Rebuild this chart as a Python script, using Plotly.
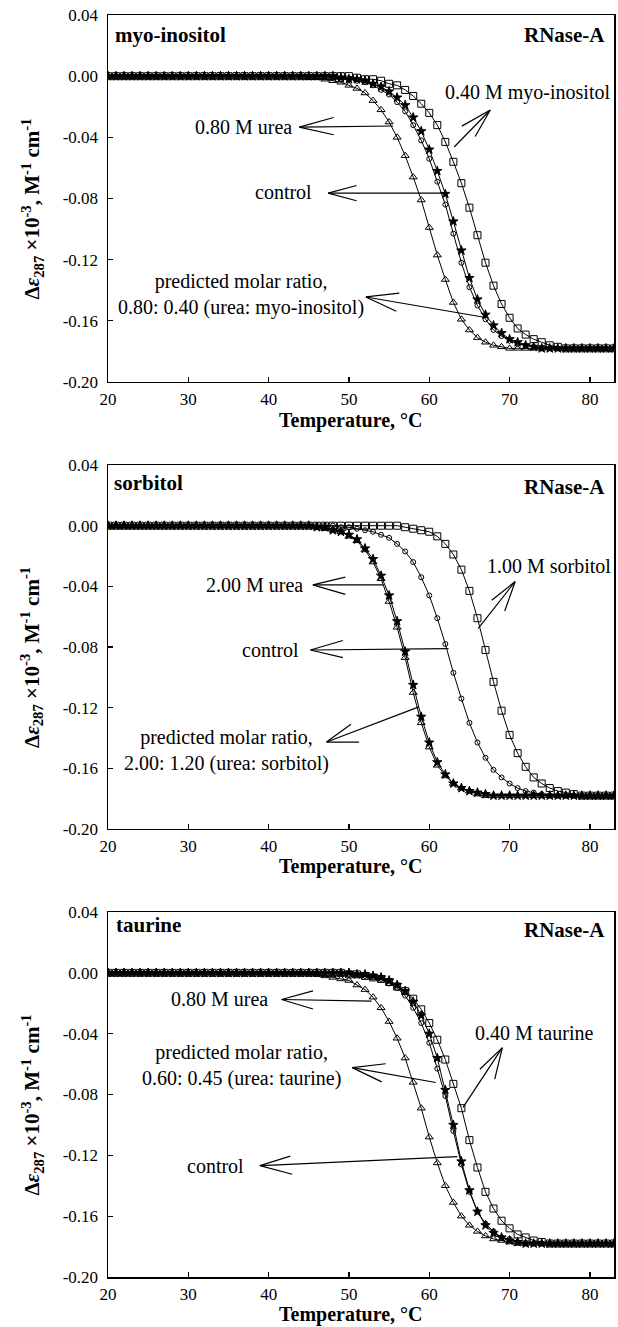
import plotly.graph_objects as go

# ---------------- data ----------------
TEMP = list(range(20, 84))  # temperature, degC (20 ... 83)

X_TICKS = [20, 30, 40, 50, 60, 70, 80]
Y_TICKS = [0.04, 0.00, -0.04, -0.08, -0.12, -0.16, -0.20]
Y_TICK_TEXT = ["0.04", "0.00", "-0.04", "-0.08", "-0.12", "-0.16", "-0.20"]

# Panel 1: myo-inositol
P1_CONTROL = [0.000, 0.000, 0.000, 0.000, 0.000, 0.000, 0.000, 0.000, 0.000, 0.000,
              0.000, 0.000, 0.000, 0.000, 0.000, 0.000, 0.000, 0.000, 0.000, 0.000,
              0.000, 0.000, 0.000, 0.000, 0.000, 0.000, 0.000, 0.000, -0.001, -0.002,
              -0.002, -0.003, -0.004, -0.006, -0.009, -0.012, -0.017, -0.023, -0.032, -0.042,
              -0.054, -0.069, -0.084, -0.103, -0.122, -0.138, -0.150, -0.159, -0.166, -0.170,
              -0.173, -0.175, -0.176, -0.177, -0.178, -0.178, -0.178, -0.178, -0.178, -0.178,
              -0.178, -0.178, -0.178, -0.178]
P1_UREA = [0.000, 0.000, 0.000, 0.000, 0.000, 0.000, 0.000, 0.000, 0.000, 0.000,
           0.000, 0.000, 0.000, 0.000, 0.000, 0.000, 0.000, 0.000, 0.000, 0.000,
           0.000, 0.000, 0.000, 0.000, 0.000, -0.001, -0.001, -0.002, -0.003, -0.004,
           -0.006, -0.008, -0.011, -0.016, -0.022, -0.030, -0.040, -0.052, -0.066, -0.081,
           -0.099, -0.117, -0.133, -0.148, -0.159, -0.166, -0.171, -0.174, -0.176, -0.177,
           -0.178, -0.178, -0.178, -0.178, -0.178, -0.178, -0.178, -0.178, -0.178, -0.178,
           -0.178, -0.178, -0.178, -0.178]
P1_PRED = [0.000, 0.000, 0.000, 0.000, 0.000, 0.000, 0.000, 0.000, 0.000, 0.000,
           0.000, 0.000, 0.000, 0.000, 0.000, 0.000, 0.000, 0.000, 0.000, 0.000,
           0.000, 0.000, 0.000, 0.000, 0.000, 0.000, 0.000, 0.000, 0.000, -0.001,
           -0.002, -0.002, -0.003, -0.005, -0.007, -0.010, -0.014, -0.019, -0.027, -0.036,
           -0.048, -0.062, -0.077, -0.095, -0.114, -0.132, -0.146, -0.156, -0.163, -0.168,
           -0.172, -0.174, -0.176, -0.177, -0.178, -0.178, -0.178, -0.178, -0.178, -0.178,
           -0.178, -0.178, -0.178, -0.178]
P1_OSMO = [0.000, 0.000, 0.000, 0.000, 0.000, 0.000, 0.000, 0.000, 0.000, 0.000,
           0.000, 0.000, 0.000, 0.000, 0.000, 0.000, 0.000, 0.000, 0.000, 0.000,
           0.000, 0.000, 0.000, 0.000, 0.000, 0.000, 0.000, 0.000, 0.000, 0.000,
           0.000, -0.001, -0.002, -0.002, -0.003, -0.005, -0.006, -0.009, -0.013, -0.018,
           -0.024, -0.032, -0.043, -0.056, -0.070, -0.086, -0.104, -0.122, -0.137, -0.149,
           -0.158, -0.165, -0.169, -0.172, -0.174, -0.176, -0.177, -0.178, -0.178, -0.178,
           -0.178, -0.178, -0.178, -0.178]

# Panel 2: sorbitol
P2_CONTROL = [0.000, 0.000, 0.000, 0.000, 0.000, 0.000, 0.000, 0.000, 0.000, 0.000,
              0.000, 0.000, 0.000, 0.000, 0.000, 0.000, 0.000, 0.000, 0.000, 0.000,
              0.000, 0.000, 0.000, 0.000, 0.000, 0.000, 0.000, 0.000, 0.000, -0.001,
              -0.001, -0.002, -0.003, -0.004, -0.006, -0.008, -0.012, -0.017, -0.024, -0.034,
              -0.046, -0.061, -0.078, -0.097, -0.114, -0.130, -0.143, -0.153, -0.161, -0.166,
              -0.170, -0.173, -0.175, -0.176, -0.177, -0.178, -0.178, -0.178, -0.178, -0.178,
              -0.178, -0.178, -0.178, -0.178]
P2_UREA = [0.000, 0.000, 0.000, 0.000, 0.000, 0.000, 0.000, 0.000, 0.000, 0.000,
           0.000, 0.000, 0.000, 0.000, 0.000, 0.000, 0.000, 0.000, 0.000, 0.000,
           0.000, 0.000, 0.000, 0.000, 0.000, 0.000, -0.001, -0.002, -0.003, -0.004,
           -0.007, -0.010, -0.016, -0.024, -0.035, -0.050, -0.067, -0.087, -0.110, -0.130,
           -0.146, -0.158, -0.165, -0.170, -0.173, -0.175, -0.177, -0.178, -0.178, -0.178,
           -0.178, -0.178, -0.178, -0.178, -0.178, -0.178, -0.178, -0.178, -0.178, -0.178,
           -0.178, -0.178, -0.178, -0.178]
P2_PRED = [0.000, 0.000, 0.000, 0.000, 0.000, 0.000, 0.000, 0.000, 0.000, 0.000,
           0.000, 0.000, 0.000, 0.000, 0.000, 0.000, 0.000, 0.000, 0.000, 0.000,
           0.000, 0.000, 0.000, 0.000, 0.000, 0.000, -0.001, -0.001, -0.003, -0.004,
           -0.006, -0.009, -0.015, -0.022, -0.033, -0.046, -0.063, -0.083, -0.105, -0.126,
           -0.143, -0.156, -0.164, -0.170, -0.173, -0.175, -0.176, -0.177, -0.178, -0.178,
           -0.178, -0.178, -0.178, -0.178, -0.178, -0.178, -0.178, -0.178, -0.178, -0.178,
           -0.178, -0.178, -0.178, -0.178]
P2_OSMO = [0.000, 0.000, 0.000, 0.000, 0.000, 0.000, 0.000, 0.000, 0.000, 0.000,
           0.000, 0.000, 0.000, 0.000, 0.000, 0.000, 0.000, 0.000, 0.000, 0.000,
           0.000, 0.000, 0.000, 0.000, 0.000, 0.000, 0.000, 0.000, 0.000, 0.000,
           0.000, 0.000, 0.000, 0.000, 0.000, 0.000, 0.000, -0.001, -0.002, -0.003,
           -0.004, -0.007, -0.012, -0.019, -0.029, -0.043, -0.061, -0.082, -0.103, -0.122,
           -0.138, -0.150, -0.159, -0.166, -0.170, -0.173, -0.175, -0.176, -0.177, -0.178,
           -0.178, -0.178, -0.178, -0.178]

# Panel 3: taurine
P3_CONTROL = [0.000, 0.000, 0.000, 0.000, 0.000, 0.000, 0.000, 0.000, 0.000, 0.000,
              0.000, 0.000, 0.000, 0.000, 0.000, 0.000, 0.000, 0.000, 0.000, 0.000,
              0.000, 0.000, 0.000, 0.000, 0.000, 0.000, 0.000, 0.000, 0.000, 0.000,
              -0.001, -0.001, -0.002, -0.003, -0.004, -0.007, -0.010, -0.015, -0.023, -0.033,
              -0.046, -0.063, -0.081, -0.104, -0.126, -0.144, -0.157, -0.165, -0.170, -0.174,
              -0.175, -0.177, -0.178, -0.178, -0.178, -0.178, -0.178, -0.178, -0.178, -0.178,
              -0.178, -0.178, -0.178, -0.178]
P3_UREA = [0.000, 0.000, 0.000, 0.000, 0.000, 0.000, 0.000, 0.000, 0.000, 0.000,
           0.000, 0.000, 0.000, 0.000, 0.000, 0.000, 0.000, 0.000, 0.000, 0.000,
           0.000, 0.000, 0.000, 0.000, 0.000, 0.000, -0.001, -0.002, -0.003, -0.004,
           -0.005, -0.008, -0.011, -0.016, -0.023, -0.032, -0.043, -0.056, -0.072, -0.089,
           -0.108, -0.125, -0.140, -0.151, -0.160, -0.166, -0.170, -0.173, -0.175, -0.176,
           -0.177, -0.178, -0.178, -0.178, -0.178, -0.178, -0.178, -0.178, -0.178, -0.178,
           -0.178, -0.178, -0.178, -0.178]
P3_PRED = [0.000, 0.000, 0.000, 0.000, 0.000, 0.000, 0.000, 0.000, 0.000, 0.000,
           0.000, 0.000, 0.000, 0.000, 0.000, 0.000, 0.000, 0.000, 0.000, 0.000,
           0.000, 0.000, 0.000, 0.000, 0.000, 0.000, 0.000, 0.000, 0.000, 0.000,
           0.000, -0.001, -0.001, -0.002, -0.003, -0.005, -0.008, -0.012, -0.019, -0.028,
           -0.040, -0.056, -0.077, -0.100, -0.124, -0.143, -0.157, -0.166, -0.171, -0.174,
           -0.176, -0.177, -0.178, -0.178, -0.178, -0.178, -0.178, -0.178, -0.178, -0.178,
           -0.178, -0.178, -0.178, -0.178]
P3_OSMO = [0.000, 0.000, 0.000, 0.000, 0.000, 0.000, 0.000, 0.000, 0.000, 0.000,
           0.000, 0.000, 0.000, 0.000, 0.000, 0.000, 0.000, 0.000, 0.000, 0.000,
           0.000, 0.000, 0.000, 0.000, 0.000, 0.000, 0.000, 0.000, 0.000, 0.000,
           -0.001, -0.001, -0.002, -0.003, -0.004, -0.006, -0.009, -0.012, -0.017, -0.024,
           -0.033, -0.044, -0.057, -0.073, -0.089, -0.110, -0.128, -0.144, -0.155, -0.163,
           -0.168, -0.172, -0.174, -0.176, -0.177, -0.178, -0.178, -0.178, -0.178, -0.178,
           -0.178, -0.178, -0.178, -0.178]

PANEL_NAMES = ["myo-inositol", "sorbitol", "taurine"]
PROTEIN = "RNase-A"
UREA_LABELS = ["0.80 M urea", "2.00 M urea", "0.80 M urea"]
OSMO_LABELS = ["0.40 M myo-inositol", "1.00 M sorbitol", "0.40 M taurine"]
PRED_LABELS = ["predicted molar ratio,<br>0.80: 0.40 (urea: myo-inositol)",
               "predicted molar ratio,<br>2.00: 1.20 (urea: sorbitol)",
               "predicted molar ratio,<br>0.60: 0.45 (urea: taurine)"]
X_TITLE = "Temperature, °C"
Y_TITLE = "Δ<i>ε</i><sub>287</sub> ×10<sup>-3</sup>, M<sup>-1</sup> cm<sup>-1</sup>"

PANELS = [
    dict(control=P1_CONTROL, urea=P1_UREA, pred=P1_PRED, osmo=P1_OSMO),
    dict(control=P2_CONTROL, urea=P2_UREA, pred=P2_PRED, osmo=P2_OSMO),
    dict(control=P3_CONTROL, urea=P3_UREA, pred=P3_PRED, osmo=P3_OSMO),
]
for p in PANELS:
    for k, v in p.items():
        assert len(v) == len(TEMP), (k, len(v))

# ---------------- styling / layout ----------------
FONT = "Liberation Serif"
W, H = 618, 1327
M_L, M_R, M_T, M_B = 108, 2, 15, 50
DOMAINS = [[0.7092, 1.0], [0.3550, 0.6434], [0.0, 0.2892]]

STYLES = {
    "urea": dict(symbol="triangle-up-open", size=7),
    "control": dict(symbol="circle-open", size=5),
    "pred": dict(symbol="star", size=7),
    "osmo": dict(symbol="square-open", size=7),
}

fig = go.Figure()
for i, p in enumerate(PANELS, start=1):
    xa = "x" if i == 1 else f"x{i}"
    ya = "y" if i == 1 else f"y{i}"
    for key in ["urea", "control", "pred", "osmo"]:
        st = STYLES[key]
        fig.add_trace(go.Scatter(
            x=TEMP, y=p[key], xaxis=xa, yaxis=ya, mode="lines+markers",
            line=dict(color="black", width=1),
            marker=dict(symbol=st["symbol"], size=st["size"], color="black",
                        line=dict(color="black", width=1)),
            showlegend=False, hoverinfo="skip"))

axis_common = dict(showline=True, linecolor="black", linewidth=1.5, mirror=True,
                   ticks="inside", ticklen=5, tickcolor="black", tickwidth=1.2,
                   showgrid=False, zeroline=False,
                   tickfont=dict(family=FONT, size=17, color="black"))
layout = dict(width=W, height=H, margin=dict(l=M_L, r=M_R, t=M_T, b=M_B),
              paper_bgcolor="white", plot_bgcolor="white", showlegend=False)
for i in range(1, 4):
    sx = "xaxis" if i == 1 else f"xaxis{i}"
    sy = "yaxis" if i == 1 else f"yaxis{i}"
    ya = "y" if i == 1 else f"y{i}"
    xa = "x" if i == 1 else f"x{i}"
    layout[sx] = dict(axis_common, range=[20, 83], tickvals=X_TICKS, anchor=ya,
                      domain=[0, 1], ticklabelstandoff=1)
    layout[sy] = dict(axis_common, range=[-0.20, 0.04], tickvals=Y_TICKS,
                      ticktext=Y_TICK_TEXT, anchor=xa, domain=DOMAINS[i - 1],
                      ticklabelstandoff=5)
fig.update_layout(**layout)

TXT = dict(family=FONT, size=20, color="black")
BTXT = dict(family=FONT, size=21, color="black")

# annotation positions (data coordinates) per panel
ANN = [
    dict(name=(20.6, 0.0269), prot=(82.1, 0.0269),
         urea_txt=(43.1, -0.0333), urea_head=(43.8, -0.0333), urea_tail=(55.5, -0.0326),
         urea_barbs=[(36, -10), (36, 8)],
         ctrl_txt=(45.6, -0.0758), ctrl_head=(47.4, -0.0765), ctrl_tail=(62.3, -0.0765),
         ctrl_barbs=[(30, -8), (30, 8)],
         pred_txt=(36.6, -0.1425), pred_head=(52.1, -0.1444), pred_tail=(67.2, -0.158),
         pred_barbs=[(35, -4), (32, 15)],
         osmo_txt=(82.8, -0.0104), osmo_anchor="right",
         osmo_head=(67.6, -0.0221), osmo_tail=(63.1, -0.0463),
         osmo_barbs=[(-30, 17), (-16, 28)]),
    dict(name=(20.5, 0.0282), prot=(82.1, 0.0255),
         urea_txt=(44.5, -0.039), urea_head=(45.5, -0.039), urea_tail=(54.3, -0.039),
         urea_barbs=[(34, -8), (34, 10)],
         ctrl_txt=(44.0, -0.082), ctrl_head=(45.2, -0.082), ctrl_tail=(62.4, -0.081),
         ctrl_barbs=[(34, -10), (34, 8)],
         pred_txt=(34.8, -0.148), pred_head=(47.2, -0.1427), pred_tail=(58.7, -0.1195),
         pred_barbs=[(26, -19), (34, 0)],
         osmo_txt=(82.9, -0.0269), osmo_anchor="right",
         osmo_head=(70.7, -0.0368), osmo_tail=(66.1, -0.0677),
         osmo_barbs=[(-25, 20), (-11, 31)]),
    dict(name=(20.7, 0.0315), prot=(82.1, 0.0282),
         urea_txt=(40.2, -0.0175), urea_head=(41.6, -0.0175), urea_tail=(52.8, -0.0186),
         urea_barbs=[(33, -9), (33, 10)],
         ctrl_txt=(37.2, -0.1268), ctrl_head=(38.9, -0.1268), ctrl_tail=(63.5, -0.1209),
         ctrl_barbs=[(32, -10), (34, 9)],
         pred_txt=(36.6, -0.061), pred_head=(50.4, -0.0623), pred_tail=(60.8, -0.0721),
         pred_barbs=[(35, -4), (31, 15)],
         osmo_txt=(73.1, -0.0393), osmo_anchor="center",
         osmo_head=(69.1, -0.0492), osmo_tail=(64.2, -0.0885),
         osmo_barbs=[(-24, 23), (-8, 33)]),
]

annotations = []


def add_arrow(xr, yr, head, tail, barbs):
    annotations.append(dict(x=tail[0], y=tail[1], ax=head[0], ay=head[1],
                            xref=xr, yref=yr, axref=xr, ayref=yr, text="",
                            showarrow=True, arrowhead=0, arrowwidth=1.2,
                            arrowcolor="black"))
    for dx, dy in barbs:
        annotations.append(dict(x=head[0], y=head[1], ax=dx, ay=dy,
                                xref=xr, yref=yr, text="", showarrow=True,
                                arrowhead=0, arrowwidth=1.2, arrowcolor="black"))


for i, a in enumerate(ANN, start=1):
    xr = "x" if i == 1 else f"x{i}"
    yr = "y" if i == 1 else f"y{i}"
    annotations.append(dict(x=a["name"][0], y=a["name"][1], xref=xr, yref=yr,
                            text=f"<b>{PANEL_NAMES[i-1]}</b>", showarrow=False,
                            xanchor="left", yanchor="middle", font=BTXT))
    annotations.append(dict(x=a["prot"][0], y=a["prot"][1], xref=xr, yref=yr,
                            text=f"<b>{PROTEIN}</b>", showarrow=False,
                            xanchor="right", yanchor="middle", font=BTXT))
    annotations.append(dict(x=a["urea_txt"][0], y=a["urea_txt"][1], xref=xr, yref=yr,
                            text=UREA_LABELS[i-1], showarrow=False,
                            xanchor="right", yanchor="middle", font=TXT))
    annotations.append(dict(x=a["ctrl_txt"][0], y=a["ctrl_txt"][1], xref=xr, yref=yr,
                            text="control", showarrow=False,
                            xanchor="right", yanchor="middle", font=TXT))
    annotations.append(dict(x=a["pred_txt"][0], y=a["pred_txt"][1], xref=xr, yref=yr,
                            text=PRED_LABELS[i-1], showarrow=False, align="center",
                            xanchor="center", yanchor="middle", font=TXT))
    annotations.append(dict(x=a["osmo_txt"][0], y=a["osmo_txt"][1], xref=xr, yref=yr,
                            text=OSMO_LABELS[i-1], showarrow=False,
                            xanchor=a["osmo_anchor"], yanchor="middle", font=TXT))
    add_arrow(xr, yr, a["urea_head"], a["urea_tail"], a["urea_barbs"])
    add_arrow(xr, yr, a["ctrl_head"], a["ctrl_tail"], a["ctrl_barbs"])
    add_arrow(xr, yr, a["pred_head"], a["pred_tail"], a["pred_barbs"])
    add_arrow(xr, yr, a["osmo_head"], a["osmo_tail"], a["osmo_barbs"])
    # axis titles
    annotations.append(dict(x=0.48, y=-0.104, xref=f"{xr} domain", yref=f"{yr} domain",
                            text=f"<b>{X_TITLE}</b>", showarrow=False,
                            xanchor="center", yanchor="middle",
                            font=dict(family=FONT, size=20, color="black")))
    annotations.append(dict(x=-0.150, y=0.47, xref="paper", yref=f"{yr} domain",
                            text=f"<b>{Y_TITLE}</b>", showarrow=False, textangle=-90,
                            xanchor="center", yanchor="middle",
                            font=dict(family=FONT, size=21, color="black")))

fig.update_layout(annotations=annotations)
fig.write_html("out.html",
               config={"displayModeBar": False, "staticPlot": True},
               post_script="document.body.style.margin='0px';"
                           "document.documentElement.style.overflow='hidden';")
